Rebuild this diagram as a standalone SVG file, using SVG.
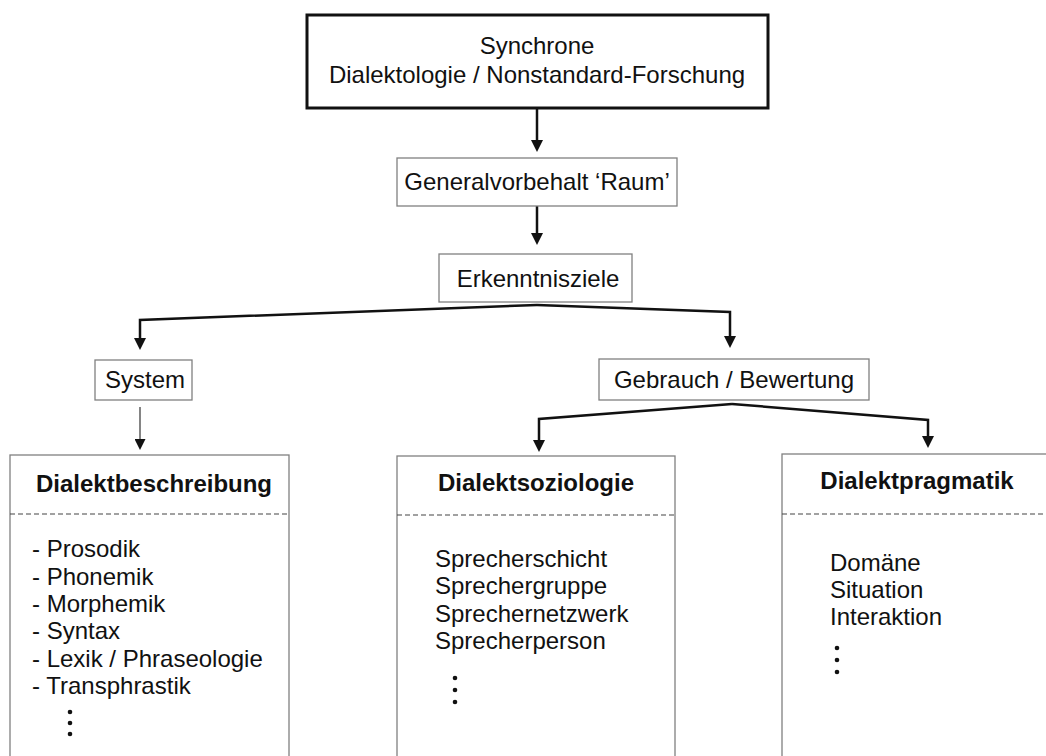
<svg xmlns="http://www.w3.org/2000/svg" width="1046" height="756" viewBox="0 0 1046 756">
<style>
  text { font-family: "Liberation Sans", Arial, sans-serif; font-size: 24px; fill: #111; }
  .b { font-weight: bold; }
  .c { text-anchor: middle; }
  .box { fill: #fff; stroke: #808080; stroke-width: 1.3; }
  .main { fill: #fff; stroke: #111; stroke-width: 3; }
  .dash { stroke: #444; stroke-width: 1.2; stroke-dasharray: 5 3; fill: none; }
  .conn { fill: none; stroke: #111; stroke-width: 2.5; }
  .thin { fill: none; stroke: #333; stroke-width: 1.2; }
  .dot { fill: #111; }
</style>
<defs>
  <marker id="ah" markerUnits="userSpaceOnUse" markerWidth="12" markerHeight="12" refX="0" refY="6" orient="auto" viewBox="0 0 12 12">
    <path d="M0,0 L12,6 L0,12 z" fill="#111"/>
  </marker>
  <marker id="ahs" markerUnits="userSpaceOnUse" markerWidth="11" markerHeight="11" refX="0" refY="5.5" orient="auto" viewBox="0 0 11 11">
    <path d="M0,0 L11,5.5 L0,11 z" fill="#111"/>
  </marker>
</defs>

<g id="connectors">
  <path class="conn" d="M537,108 V140" marker-end="url(#ah)"/>
  <path class="conn" d="M537,206 V233" marker-end="url(#ah)"/>
  <path class="conn" d="M537,305 L140,320 V338" marker-end="url(#ah)"/>
  <path class="conn" d="M537,305 L730,312 V336" marker-end="url(#ah)"/>
  <path class="thin" d="M140,407 V439" marker-end="url(#ahs)"/>
  <path class="conn" d="M732,404 L539,419 V440" marker-end="url(#ah)"/>
  <path class="conn" d="M732,404 L928,420 V436" marker-end="url(#ah)"/>
</g>

<g id="node-synchrone">
  <rect class="main" x="307" y="15" width="461" height="93"/>
  <text class="c" x="537" y="54">Synchrone</text>
  <text class="c" x="537" y="83">Dialektologie / Nonstandard-Forschung</text>
</g>

<g id="node-generalvorbehalt">
  <rect class="box" x="397" y="158" width="280" height="48"/>
  <text class="c" x="537" y="190">Generalvorbehalt ‘Raum’</text>
</g>

<g id="node-erkenntnisziele">
  <rect class="box" x="439" y="254" width="193" height="48"/>
  <text class="c" x="538" y="287">Erkenntnisziele</text>
</g>

<g id="node-system">
  <rect class="box" x="95" y="360" width="97" height="40"/>
  <text class="c" x="145" y="388">System</text>
</g>

<g id="node-gebrauch">
  <rect class="box" x="599" y="359" width="270" height="41"/>
  <text class="c" x="734" y="388">Gebrauch / Bewertung</text>
</g>

<g id="node-dialektbeschreibung">
  <rect class="box" x="10" y="455" width="279" height="320"/>
  <text class="c b" x="154" y="492">Dialektbeschreibung</text>
  <line class="dash" x1="10" y1="514" x2="289" y2="514"/>
  <text x="32" y="557">- Prosodik</text>
  <text x="32" y="585">- Phonemik</text>
  <text x="32" y="612">- Morphemik</text>
  <text x="32" y="639">- Syntax</text>
  <text x="32" y="667">- Lexik / Phraseologie</text>
  <text x="32" y="694">- Transphrastik</text>
  <circle class="dot" cx="70" cy="712" r="2.3"/>
  <circle class="dot" cx="70" cy="723" r="2.3"/>
  <circle class="dot" cx="70" cy="734" r="2.3"/>
</g>

<g id="node-dialektsoziologie">
  <rect class="box" x="397" y="456" width="278" height="320"/>
  <text class="c b" x="536" y="491">Dialektsoziologie</text>
  <line class="dash" x1="397" y1="515" x2="675" y2="515"/>
  <text x="435" y="567">Sprecherschicht</text>
  <text x="435" y="594">Sprechergruppe</text>
  <text x="435" y="622">Sprechernetzwerk</text>
  <text x="435" y="649">Sprecherperson</text>
  <circle class="dot" cx="455" cy="678" r="2.3"/>
  <circle class="dot" cx="455" cy="690" r="2.3"/>
  <circle class="dot" cx="455" cy="702" r="2.3"/>
</g>

<g id="node-dialektpragmatik">
  <rect class="box" x="782" y="454" width="272" height="320"/>
  <text class="c b" x="917" y="489">Dialektpragmatik</text>
  <line class="dash" x1="782" y1="514" x2="1054" y2="514"/>
  <text x="830" y="571">Domäne</text>
  <text x="830" y="598">Situation</text>
  <text x="830" y="625">Interaktion</text>
  <circle class="dot" cx="837" cy="648" r="2.3"/>
  <circle class="dot" cx="837" cy="660" r="2.3"/>
  <circle class="dot" cx="837" cy="672" r="2.3"/>
</g>
</svg>
